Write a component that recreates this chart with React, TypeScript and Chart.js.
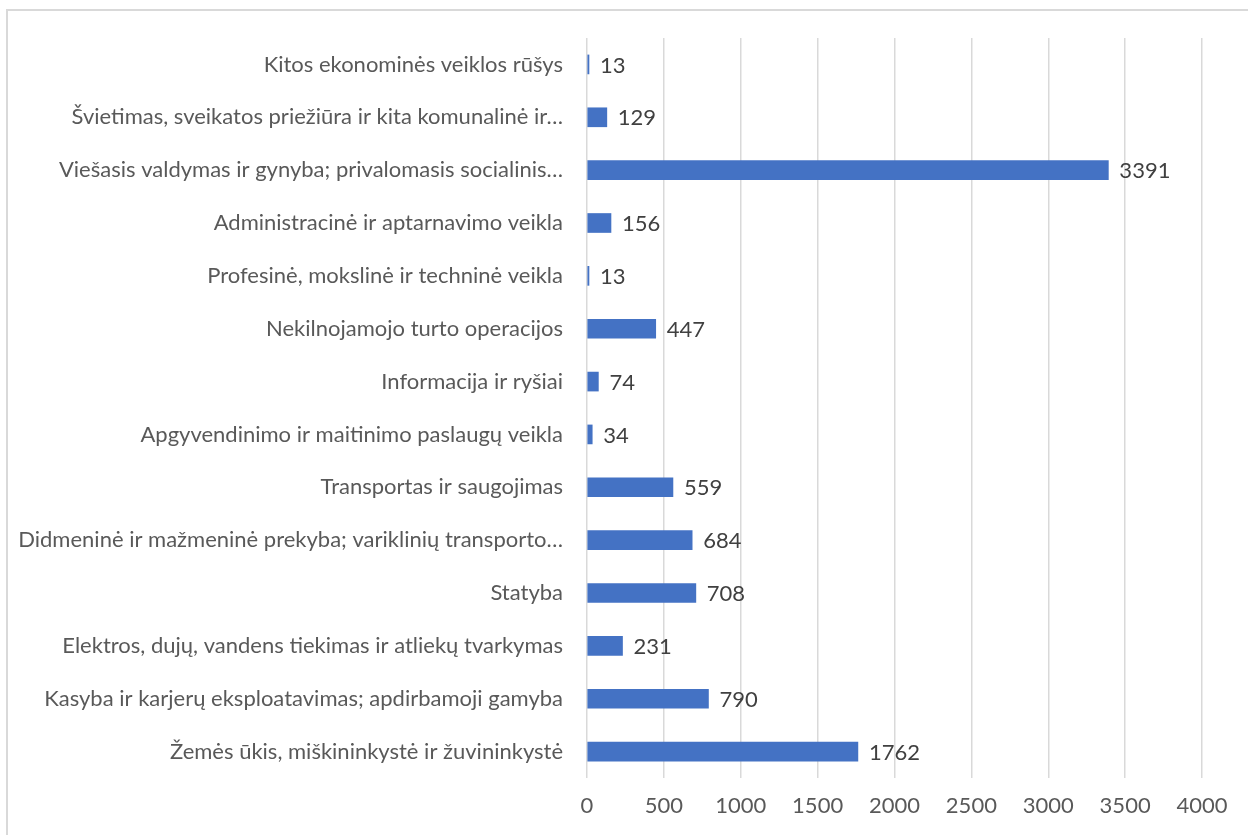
import React, { useEffect, useRef } from "react";
import { Chart, registerables } from "chart.js";

Chart.register(...registerables);

const categories: string[] = [
  "Kitos ekonominės veiklos rūšys",
  "Švietimas, sveikatos priežiūra ir kita komunalinė ir…",
  "Viešasis valdymas ir gynyba; privalomasis socialinis…",
  "Administracinė ir aptarnavimo veikla",
  "Profesinė, mokslinė ir techninė veikla",
  "Nekilnojamojo turto operacijos",
  "Informacija ir ryšiai",
  "Apgyvendinimo ir maitinimo paslaugų veikla",
  "Transportas ir saugojimas",
  "Didmeninė ir mažmeninė prekyba; variklinių transporto…",
  "Statyba",
  "Elektros, dujų, vandens tiekimas ir atliekų tvarkymas",
  "Kasyba ir karjerų eksploatavimas; apdirbamoji gamyba",
  "Žemės ūkis, miškininkystė ir žuvininkystė",
];

const values: number[] = [13, 129, 3391, 156, 13, 447, 74, 34, 559, 684, 708, 231, 790, 1762];

const xMin = 0;
const xMax = 4000;
const xStep = 500;

const FONT = "Lato, 'Noto Sans', sans-serif";

const valueLabels = {
  id: "valueLabels",
  afterDatasetsDraw(chart: any) {
    const ctx = chart.ctx;
    const meta = chart.getDatasetMeta(0);
    ctx.save();
    ctx.font = `22px ${FONT}`;
    ctx.fillStyle = "#404040";
    ctx.textAlign = "left";
    ctx.textBaseline = "middle";
    meta.data.forEach((bar: any, i: number) => {
      ctx.fillText(String(values[i]), bar.x + 11, bar.y + 1);
    });
    ctx.restore();
  },
};

export default function App() {
  const ref = useRef<HTMLCanvasElement | null>(null);

  useEffect(() => {
    if (!ref.current) return;
    const chart = new Chart(ref.current, {
      type: "bar",
      data: {
        labels: categories,
        datasets: [
          {
            data: values,
            backgroundColor: "#4472C4",
            borderWidth: 0,
            barThickness: 19,
          },
        ],
      },
      options: {
        indexAxis: "y",
        responsive: false,
        animation: false,
        layout: { padding: { top: 38, right: 46, left: 0, bottom: 0 } },
        plugins: {
          legend: { display: false },
          tooltip: { enabled: false },
        },
        scales: {
          x: {
            min: xMin,
            max: xMax,
            ticks: {
              stepSize: xStep,
              color: "#595959",
              font: { family: FONT, size: 22 },
              padding: 15,
              callback: (v: any) => String(v),
            },
            grid: { color: "#D9D9D9", lineWidth: 1.5, drawTicks: false },
            border: { display: false },
            afterFit: (scale: any) => {
              scale.height = 835 - 778;
            },
          },
          y: {
            ticks: {
              color: "#595959",
              font: { family: FONT, size: 22 },
              padding: 24,
              autoSkip: false,
            },
            grid: { display: false, drawTicks: false },
            border: { display: false },
            afterFit: (scale: any) => {
              scale.width = 587;
            },
          },
        },
      },
      plugins: [valueLabels],
    });
    return () => chart.destroy();
  }, []);

  return (
    <div style={{ position: "absolute", left: 0, top: 0, width: 1248, height: 835, overflow: "hidden", background: "#fff" }}>
      <div
        style={{
          position: "absolute",
          left: 6,
          top: 9,
          width: 1400,
          height: 1000,
          border: "2px solid #D9D9D9",
          boxSizing: "border-box",
        }}
      />
      <canvas ref={ref} width={1248} height={835} style={{ position: "absolute", left: 0, top: 0 }} />
    </div>
  );
}
